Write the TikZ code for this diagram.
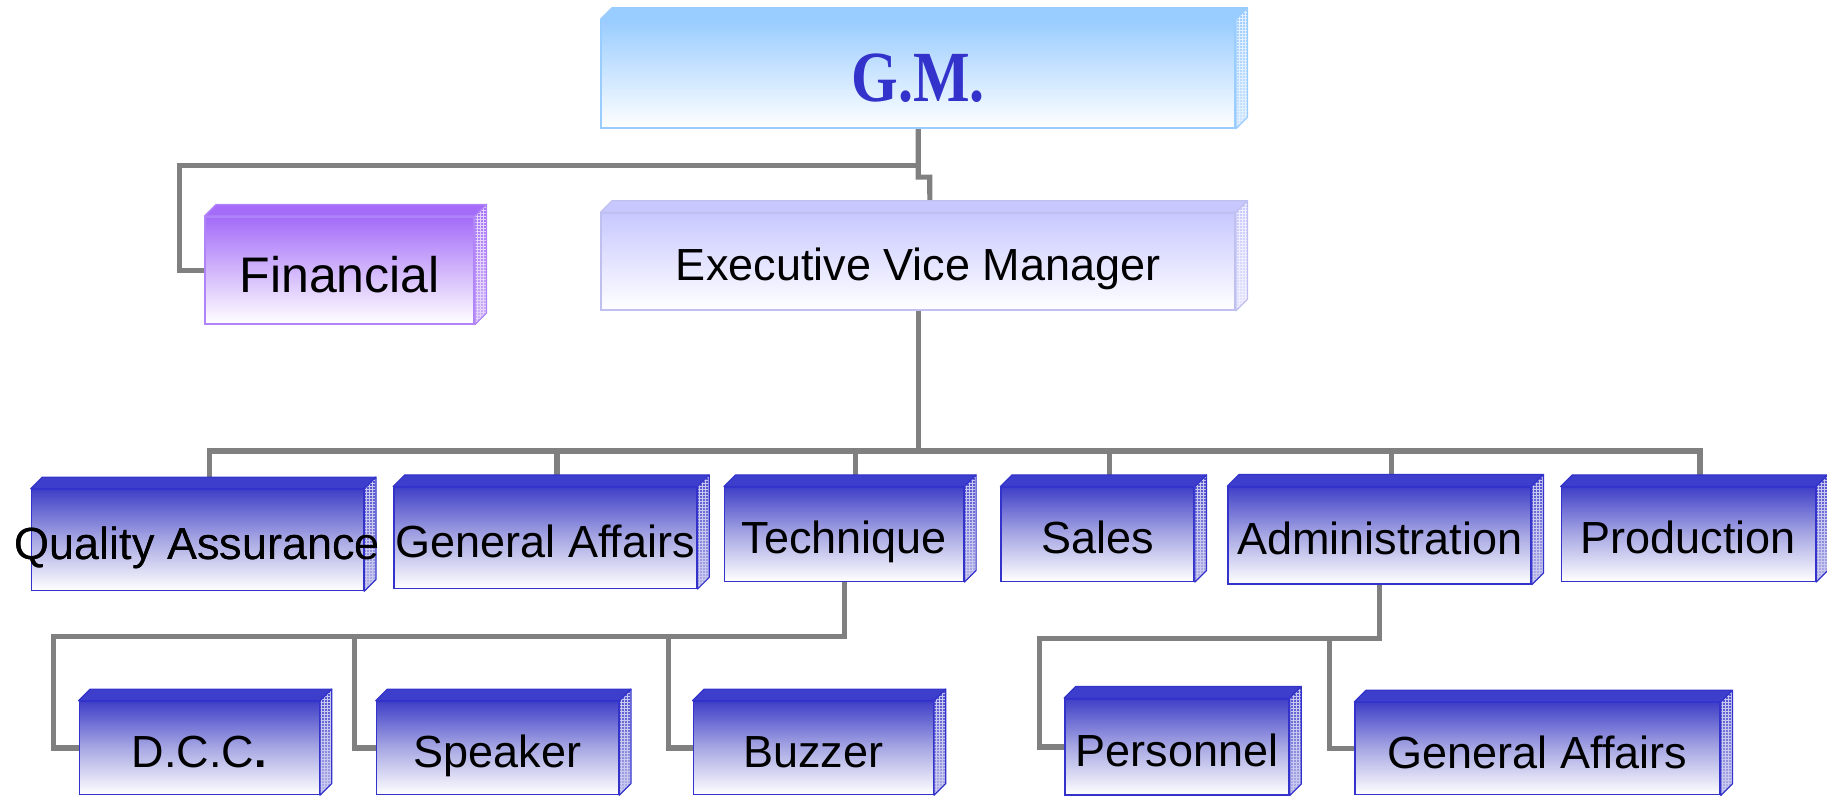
\documentclass[tikz,border=0pt]{standalone}
\usepackage{fontspec}
\setmainfont{Liberation Sans}
\newfontfamily\gmfont{Liberation Serif}
\usetikzlibrary{calc,backgrounds,patterns}
\definecolor{linegray}{HTML}{808080}
\definecolor{bbord}{HTML}{3333CC}
\definecolor{btop}{HTML}{4040C8}
\definecolor{bmid}{HTML}{A8A8E4}
\definecolor{bface}{HTML}{3E3ECC}
\definecolor{bsidet}{HTML}{4C4CCE}
\definecolor{bsideb}{HTML}{B4B4E8}
\definecolor{gmtop}{HTML}{99CCFF}
\definecolor{gmbord}{HTML}{99CCFF}
\definecolor{gmsidet}{HTML}{9CCCFF}
\definecolor{gmsideb}{HTML}{CFE5FF}
\definecolor{fintop}{HTML}{A46CF8}
\definecolor{finbord}{HTML}{B084F8}
\definecolor{finsidet}{HTML}{A470F8}
\definecolor{finsideb}{HTML}{D0B4F8}
\definecolor{extop}{HTML}{C8C8FF}
\definecolor{exbord}{HTML}{C0C0F0}
\definecolor{exsidet}{HTML}{C8C8FF}
\definecolor{exsideb}{HTML}{E4E4FF}
\definecolor{gmtext}{HTML}{3333CC}
\def\dd{11.65pt}
\newcommand\depthfaces[5]{%
  \path[fill=#3,draw=#2,line width=1.2pt,line join=round] (#1.north west) -- ++(\dd,\dd) -- ([shift={(\dd,\dd)}]#1.north east) -- (#1.north east) -- cycle;
  \path[top color=#4,bottom color=#5] (#1.north east) -- ++(\dd,\dd) -- ([shift={(\dd,\dd)}]#1.south east) -- (#1.south east) -- cycle;
  \path[pattern=grid,pattern color=white!70!#4] (#1.north east) -- ++(\dd,\dd) -- ([shift={(\dd,\dd)}]#1.south east) -- (#1.south east) -- cycle;
  \path[draw=#2,line width=1.2pt,line join=round] (#1.north east) -- ++(\dd,\dd) -- ([shift={(\dd,\dd)}]#1.south east) -- (#1.south east) -- cycle;
}
\tikzset{
  conn/.style={draw=linegray,line width=5.2pt,line join=miter},
  boxbase/.style={rectangle,inner sep=0pt,text depth=0pt,align=center},
  bluebox/.style={boxbase,draw=bbord,line width=1.5pt,top color=btop,bottom color=white,middle color=bmid,
    font=\fontsize{45}{54}\selectfont,text=black,text height=39pt},
  gmbox/.style={boxbase,draw=gmbord,line width=1.5pt,top color=gmtop,bottom color=white,
    font=\gmfont\bfseries\fontsize{60}{70}\selectfont,text=gmtext,text height=54pt},
  finbox/.style={boxbase,draw=finbord,line width=1.5pt,top color=fintop,bottom color=white,
    font=\fontsize{50}{60}\selectfont,text=black,text height=44pt},
  exbox/.style={boxbase,draw=exbord,line width=1.5pt,top color=extop,bottom color=white,
    font=\fontsize{45}{54}\selectfont,text=black,text height=38pt},
}
\begin{document}
\begin{tikzpicture}[x=1pt,y=-1pt]
\useasboundingbox (0,0) rectangle (1827,795);
% nodes
\node[gmbox,minimum width=634pt,minimum height=108pt] (gm) at (918.2,74) {\scalebox{1}[1.2]{G.M.}};
\node[finbox,minimum width=269pt,minimum height=107pt] (fin) at (339.7,270.3) {Financial};
\node[exbox,minimum width=634pt,minimum height=97pt] (ex) at (918.2,261.6) {Executive Vice Manager};
\node[bluebox,minimum width=332pt,minimum height=101pt] (qa) at (197.5,540) {\makebox[0pt]{Quality Assurance}};
\node[bluebox,minimum width=303pt,minimum height=101pt] (ga) at (545.3,537.8) {General Affairs};
\node[bluebox,minimum width=239pt,minimum height=94pt] (tech) at (844.2,534.3) {Technique};
\node[bluebox,minimum width=193pt,minimum height=94pt] (sal) at (1097.6,534.3) {Sales};
\node[bluebox,minimum width=303pt,minimum height=97pt] (adm) at (1379.6,535.4) {Administration};
\node[bluebox,minimum width=254pt,minimum height=94pt] (pro) at (1688.4,534.3) {Production};
\node[bluebox,minimum width=240pt,minimum height=93pt] (dcc) at (199.3,748) {D.C.C{\bfseries.}};
\node[bluebox,minimum width=242pt,minimum height=93pt] (spk) at (497.5,748) {Speaker};
\node[bluebox,minimum width=240pt,minimum height=93pt] (buz) at (813.3,748) {Buzzer};
\node[bluebox,minimum width=224pt,minimum height=96pt] (per) at (1176.9,746.9) {Personnel};
\node[bluebox,minimum width=365pt,minimum height=92pt] (ga2) at (1537.5,748.7) {General Affairs};
% 3D faces
\depthfaces{gm}{gmbord}{gmtop}{gmsidet}{gmsideb}
\depthfaces{fin}{finbord}{fintop}{finsidet}{finsideb}
\depthfaces{ex}{exbord}{extop}{exsidet}{exsideb}
\foreach \n in {qa,ga,tech,sal,adm,pro,dcc,spk,buz,per,ga2}{\depthfaces{\n}{bbord}{bface}{bsidet}{bsideb}}
% redraw QA text over its side face
\node[font=\fontsize{45}{54}\selectfont,inner sep=0pt,text height=39pt,text depth=0pt] at (qa.center) {\makebox[0pt]{Quality Assurance}};
% attach points on top faces
\foreach \n in {ex,qa,ga,tech,sal,adm,pro}{\coordinate (\n-t) at ([shift={(\dd,\dd)}]\n.north);}
\coordinate (bus) at (0,451);
\coordinate (j1) at (179.4,165.5);
\coordinate (j2) at (929.8,177.1);
\coordinate (t1) at (53.6,636.2);
\coordinate (t2) at (354.2,636.2);
\coordinate (t3) at (668.8,636.2);
\coordinate (a1) at (1039.4,638.5);
\coordinate (a2) at (1329.5,638.5);
% connectors (behind boxes)
\begin{pgfonlayer}{background}
\draw[conn] (gm.south) |- (j1) |- (fin.west);
\draw[conn] (gm.south) |- (j2) -- (ex-t);
\draw[conn] (ex.south) -- (ex.south |- bus);
\draw[conn] (qa-t) -- (qa-t |- bus) -- (pro-t |- bus) -- (pro-t);
\foreach \n in {ga,tech,sal,adm}{\draw[conn] (\n-t) -- (\n-t |- bus);}
\draw[conn] (tech.south) -- (tech.south |- t1) -- (t1) |- (dcc.west);
\draw[conn] (t2) |- (spk.west);
\draw[conn] (t3) |- (buz.west);
\draw[conn] (adm.south) -- (adm.south |- a1) -- (a1) |- (per.west);
\draw[conn] (a2) |- (ga2.west);
\end{pgfonlayer}
\end{tikzpicture}
\end{document}
